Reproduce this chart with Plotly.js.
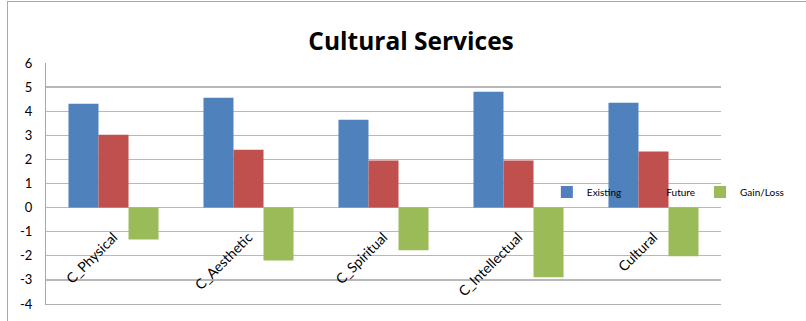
<!DOCTYPE html>
<html>
<head>
<meta charset="utf-8">
<script src="https://cdn.plot.ly/plotly-3.0.1.min.js"></script>
<style>
  html, body { margin: 0; padding: 0; background: #fff; }
  #wrap { position: relative; width: 806px; height: 321px; }
  #chart { position: absolute; left: 0; top: 0; width: 806px; height: 321px; }
  #frame { position: absolute; left: 7px; top: 1px; width: 805px; height: 330px;
           border-left: 1px solid #a9a9a9; border-top: 1px solid #a9a9a9; pointer-events: none; }
</style>
</head>
<body>
<div id="wrap"><div id="chart"></div><div id="frame"></div></div>
<script>
const categories = ["C_Physical", "C_Aesthetic", "C_Spiritual", "C_Intellectual", "Cultural"];
const existing = [4.31, 4.56, 3.65, 4.81, 4.35];
const future = [3.02, 2.40, 1.95, 1.95, 2.33];
const gainLoss = [-1.32, -2.19, -1.77, -2.89, -2.02];
const yTicks = [-4, -3, -2, -1, 0, 1, 2, 3, 4, 5, 6];
const yRange = [-4, 6];

const fontFam = "Lato, 'Open Sans', sans-serif";
const traces = [
  { type: "bar", name: "Existing", x: categories, y: existing, marker: { color: "#4F81BD" } },
  { type: "bar", name: "Future", x: categories, y: future, marker: { color: "#C0504D" } },
  { type: "bar", name: "Gain/Loss", x: categories, y: gainLoss, marker: { color: "#9BBB59" } }
];

const layout = {
  width: 806, height: 321,
  margin: { l: 46, r: 85, t: 63, b: 17, pad: 0 },
  paper_bgcolor: "#ffffff", plot_bgcolor: "#ffffff",
  font: { family: fontFam, color: "#000" },
  title: { text: "<b>Cultural Services</b>", font: { family: "'Open Sans', sans-serif", size: 24.5, color: "#000" },
           xref: "container", x: 0.51, xanchor: "center", yref: "container", y: 0.87, yanchor: "middle" },
  barmode: "group", bargap: 0.333, bargroupgap: 0,
  showlegend: true,
  legend: { orientation: "h", x: 0.742, xanchor: "left", y: 0.465, yanchor: "middle",
            bgcolor: "rgba(0,0,0,0)", font: { size: 10, family: fontFam }, itemwidth: 30,
            traceorder: "normal" },
  xaxis: { type: "category", range: [-0.5, categories.length - 0.5], autorange: false,
           anchor: "free", position: (0 - yRange[0]) / (yRange[1] - yRange[0]),
           showline: false, showgrid: false, zeroline: false, ticks: "outside", ticklen: 15,
           tickcolor: "rgba(0,0,0,0)", tickangle: -45,
           tickfont: { size: 14, family: fontFam }, automargin: false },
  xaxis2: { overlaying: "x", anchor: "y", side: "bottom", matches: "x", showline: true, linecolor: "#b0b0b0",
            linewidth: 1.3, showgrid: false, zeroline: false, showticklabels: false, ticks: "" },
  yaxis: { range: yRange, tickvals: yTicks, ticktext: yTicks.map(String), showline: true, linecolor: "#a6a6a6",
           linewidth: 1, gridcolor: "#b8b8b8", gridwidth: 1.3, zeroline: false, ticks: "",
           ticklabelstandoff: 10, tickfont: { size: 13, family: fontFam }, automargin: false, fixedrange: true }
};

// invisible trace so the bottom frame axis is drawn
traces.push({ type: "scatter", x: categories, y: existing, xaxis: "x2", yaxis: "y", mode: "none",
              showlegend: false, hoverinfo: "skip" });

Plotly.newPlot("chart", traces, layout, { displayModeBar: false, staticPlot: true });
</script>
</body>
</html>
